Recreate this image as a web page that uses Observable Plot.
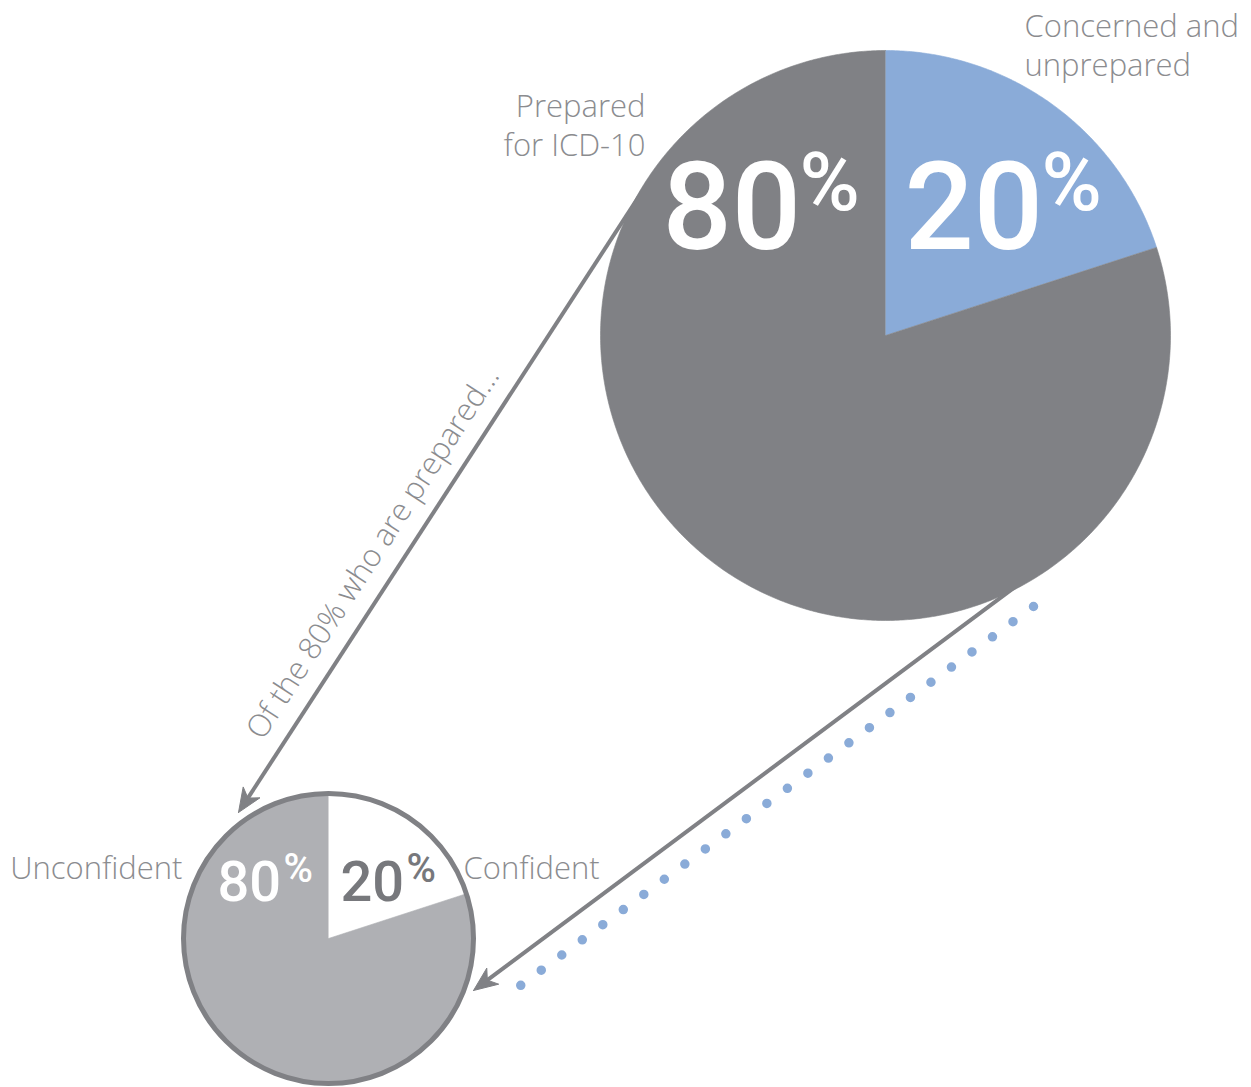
<!DOCTYPE html>
<html><head><meta charset="utf-8">
<script src="https://cdn.jsdelivr.net/npm/d3@7"></script>
<script src="https://cdn.jsdelivr.net/npm/@observablehq/plot@0.6"></script>
<style>body{margin:0;background:#fff}svg{display:block}</style>
</head><body><div id="chart"></div>
<script>
// ---- data ----
const bigCategories = ["Concerned and unprepared", "Prepared for ICD-10"];
const bigValues = [20, 80];
const bigLabels = ["Concerned and\nunprepared", "Prepared\nfor ICD-10"];
const smallCategories = ["Confident", "Unconfident"];
const smallValues = [20, 80];
const smallLabels = ["Confident", "Unconfident"];
const connectorText = "Of the 80% who are prepared...";

// ---- layout ----
const W = 1251, H = 1087;
const big = {cx: 885, cy: 335, r: 285, colors: ["#8aabd8", "#808185"]};
const small = {cx: 328, cy: 938, r: 145, colors: ["#ffffff", "#afb0b4"], stroke: "#808185"};
const grey = "#808185", labelGrey = "#8b8c8f", blue = "#8aabd8";
const arrows = [
  {x1: 652, y1: 175, x2: 238, y2: 812},
  {x1: 1062, y1: 551, x2: 473, y2: 990}
];
const dotted = [{x1: 1033, y1: 606, x2: 520, y2: 985}];

function slices(values, cats, g) {
  const total = d3.sum(values);
  let a0 = 0;
  return values.map((v, i) => {
    const a1 = a0 + v / total * 2 * Math.PI;
    const pts = [{x: g.cx, y: g.cy}];
    const n = Math.max(2, Math.ceil((a1 - a0) / (Math.PI / 360)));
    for (let j = 0; j <= n; j++) {
      const a = a0 + (a1 - a0) * j / n;
      pts.push({x: g.cx + g.r * Math.sin(a), y: g.cy - g.r * Math.cos(a)});
    }
    a0 = a1;
    return {key: cats[i], color: g.colors[i], pts};
  });
}

function arrowHead(a, L = 24, Wd = 10) {
  const dx = a.x2 - a.x1, dy = a.y2 - a.y1, len = Math.hypot(dx, dy);
  const ux = dx / len, uy = dy / len, nx = -uy, ny = ux;
  return [
    {x: a.x2, y: a.y2},
    {x: a.x2 - L * ux + Wd * nx, y: a.y2 - L * uy + Wd * ny},
    {x: a.x2 - 0.72 * L * ux, y: a.y2 - 0.72 * L * uy},
    {x: a.x2 - L * ux - Wd * nx, y: a.y2 - L * uy - Wd * ny},
    {x: a.x2, y: a.y2}
  ];
}

const bigSlices = slices(bigValues, bigCategories, big);
const smallSlices = slices(smallValues, smallCategories, small);

const marks = [];
arrows.forEach(a => {
  const dx = a.x2 - a.x1, dy = a.y2 - a.y1, len = Math.hypot(dx, dy);
  const shorten = 16;
  marks.push(Plot.link([a], {x1: "x1", y1: "y1", x2: d => d.x2 - dx / len * shorten, y2: d => d.y2 - dy / len * shorten, stroke: grey, strokeWidth: 4}));
  marks.push(Plot.line(arrowHead(a), {x: "x", y: "y", fill: grey, stroke: grey, strokeWidth: 1, strokeLinejoin: "miter"}));
});
marks.push(Plot.link(dotted, {x1: "x1", y1: "y1", x2: "x2", y2: "y2", stroke: blue, strokeWidth: 9.5, strokeLinecap: "round", strokeDasharray: "0 25.5"}));
bigSlices.forEach(s => marks.push(Plot.line(s.pts, {x: "x", y: "y", fill: s.color, stroke: s.color, strokeWidth: 0.6})));
smallSlices.forEach(s => marks.push(Plot.line(s.pts, {x: "x", y: "y", fill: s.color, stroke: s.color, strokeWidth: 0.6})));
marks.push(Plot.dot([small], {x: "cx", y: "cy", r: small.r, fill: "none", stroke: small.stroke, strokeWidth: 5}));

const pctFont = "Roboto, Inter, sans-serif";
const pct = {textAnchor: "start", lineAnchor: "bottom", fontFamily: pctFont, fontWeight: 500};
marks.push(
  Plot.text([bigValues[1]], {...pct, x: 662, y: 248, text: d => String(d), fill: "white", fontSize: 122}),
  Plot.text(["%"], {...pct, x: 799, y: 209, text: d => d, fill: "white", fontSize: 82}),
  Plot.text([bigValues[0]], {...pct, x: 904, y: 248, text: d => String(d), fill: "white", fontSize: 122}),
  Plot.text(["%"], {...pct, x: 1041, y: 209, text: d => d, fill: "white", fontSize: 82}),
  Plot.text([smallValues[1]], {...pct, x: 217, y: 900, text: d => String(d), fill: "white", fontSize: 56}),
  Plot.text(["%"], {...pct, x: 283, y: 881, text: d => d, fill: "white", fontSize: 40}),
  Plot.text([smallValues[0]], {...pct, x: 340, y: 900, text: d => String(d), fill: "#77787c", fontSize: 56}),
  Plot.text(["%"], {...pct, x: 406, y: 881, text: d => d, fill: "#77787c", fontSize: 40})
);

const lblFont = "'Open Sans', Lato, sans-serif";
const lbl = {fill: labelGrey, fontSize: 31, fontWeight: 300, fontFamily: lblFont, lineAnchor: "bottom", lineHeight: 1.23};
marks.push(
  Plot.text([bigLabels[1]], {...lbl, x: 645, y: 155, text: d => d, textAnchor: "end"}),
  Plot.text([bigLabels[0]], {...lbl, x: 1024, y: 75, text: d => d, textAnchor: "start"}),
  Plot.text([smallLabels[1]], {...lbl, x: 182, y: 878, text: d => d, textAnchor: "end"}),
  Plot.text([smallLabels[0]], {...lbl, x: 463, y: 878, text: d => d, textAnchor: "start"}),
  Plot.text([connectorText], {...lbl, fontSize: 31, x: 381, y: 558, text: d => d, textAnchor: "middle", rotate: -57})
);

const chart = Plot.plot({
  width: W, height: H,
  margin: 0,
  x: {domain: [0, W], range: [0, W], axis: null},
  y: {domain: [0, H], range: [0, H], axis: null},
  style: {background: "white"},
  marks
});
document.getElementById("chart").append(chart);
</script>
</body></html>
